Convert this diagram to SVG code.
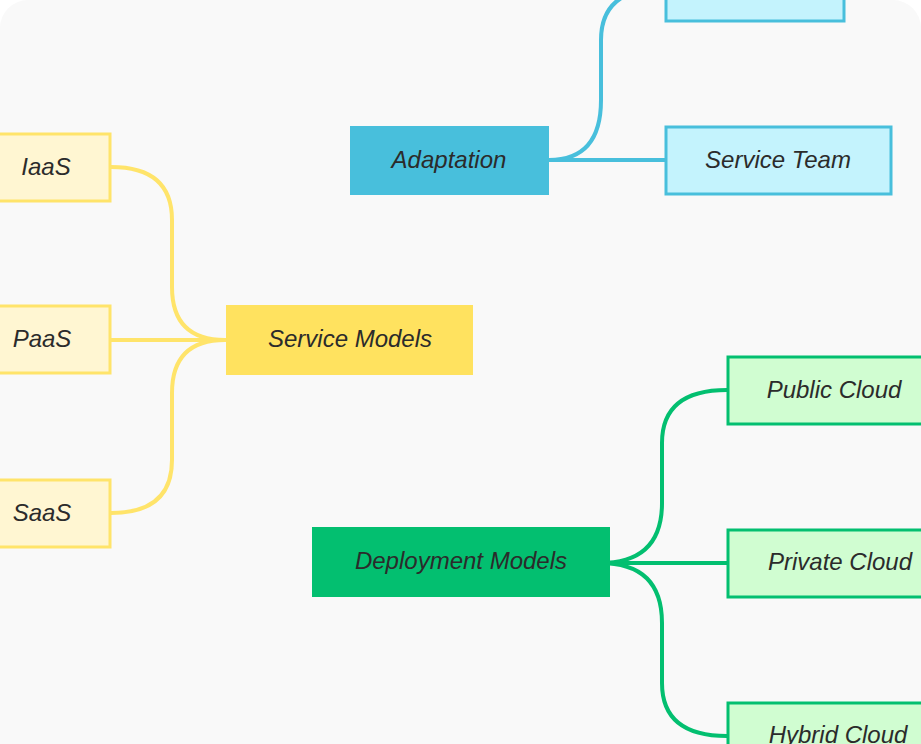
<svg xmlns="http://www.w3.org/2000/svg" width="921" height="744" viewBox="0 0 921 744">
<style>
.t{font-family:"Liberation Sans",Arial,sans-serif;font-style:italic;font-size:24px;fill:#2b2b2b;text-anchor:middle}
.c{fill:none;stroke-width:4;stroke-linecap:round}
.cb{stroke:#48bfdc}.cy{stroke:#ffe46a}.cg{stroke:#03bf70}
.kb{fill:#c4f3fd;stroke:#48bfdc;stroke-width:3}
.ky{fill:#fff6d2;stroke:#ffe46a;stroke-width:3}
.kg{fill:#d0fdd1;stroke:#03bf70;stroke-width:3}
</style>
<rect width="921" height="744" fill="#ffffff"/>
<rect x="0" y="0" width="921" height="800" rx="28" fill="#f9f9f9"/>
<g id="connectors">
<path class="c cb" d="M549 160 L665 160"/>
<path class="c cb" d="M549 160 Q601 160 601 100 L601 40 Q601 -12 665 -12"/>
<path class="c cy" d="M225 340 Q172 340 172 287 L172 220 Q172 167 111 167"/>
<path class="c cy" d="M225 340 L111 340"/>
<path class="c cy" d="M225 340 Q172 340 172 393 L172 460 Q172 513 111 513"/>
<path class="c cg" d="M600 563 L727 563"/>
<path class="c cg" d="M600 563 Q662 563 662 503 L662 443 Q662 390 727 390"/>
<path class="c cg" d="M600 563 Q662 563 662 623 L662 683 Q662 736 727 736"/>
</g>
<g id="node-top"><rect class="kb" x="666" y="-46" width="178" height="67"/></g>
<g id="node-adaptation"><rect x="350" y="126" width="199" height="69" fill="#48bfdc"/><text class="t" x="449" y="168">Adaptation</text></g>
<g id="node-service-team"><rect class="kb" x="666" y="127" width="225" height="67"/><text class="t" x="778" y="168">Service Team</text></g>
<g id="node-service-models"><rect x="226" y="305" width="247" height="70" fill="#ffe25f"/><text class="t" x="350" y="347">Service Models</text></g>
<g id="node-iaas"><rect class="ky" x="-21" y="134" width="131" height="67"/><text class="t" x="46" y="175">IaaS</text></g>
<g id="node-paas"><rect class="ky" x="-21" y="306" width="131" height="67"/><text class="t" x="42" y="347">PaaS</text></g>
<g id="node-saas"><rect class="ky" x="-21" y="480" width="131" height="67"/><text class="t" x="42" y="521">SaaS</text></g>
<g id="node-deployment-models"><rect x="312" y="527" width="298" height="70" fill="#03bf70"/><text class="t" x="461" y="569">Deployment Models</text></g>
<g id="node-public-cloud"><rect class="kg" x="728" y="357" width="225" height="67"/><text class="t" x="834" y="398">Public Cloud</text></g>
<g id="node-private-cloud"><rect class="kg" x="728" y="530" width="225" height="67"/><text class="t" x="840" y="570">Private Cloud</text></g>
<g id="node-hybrid-cloud"><rect class="kg" x="728" y="703" width="225" height="67"/><text class="t" x="838" y="743">Hybrid Cloud</text></g>
</svg>
